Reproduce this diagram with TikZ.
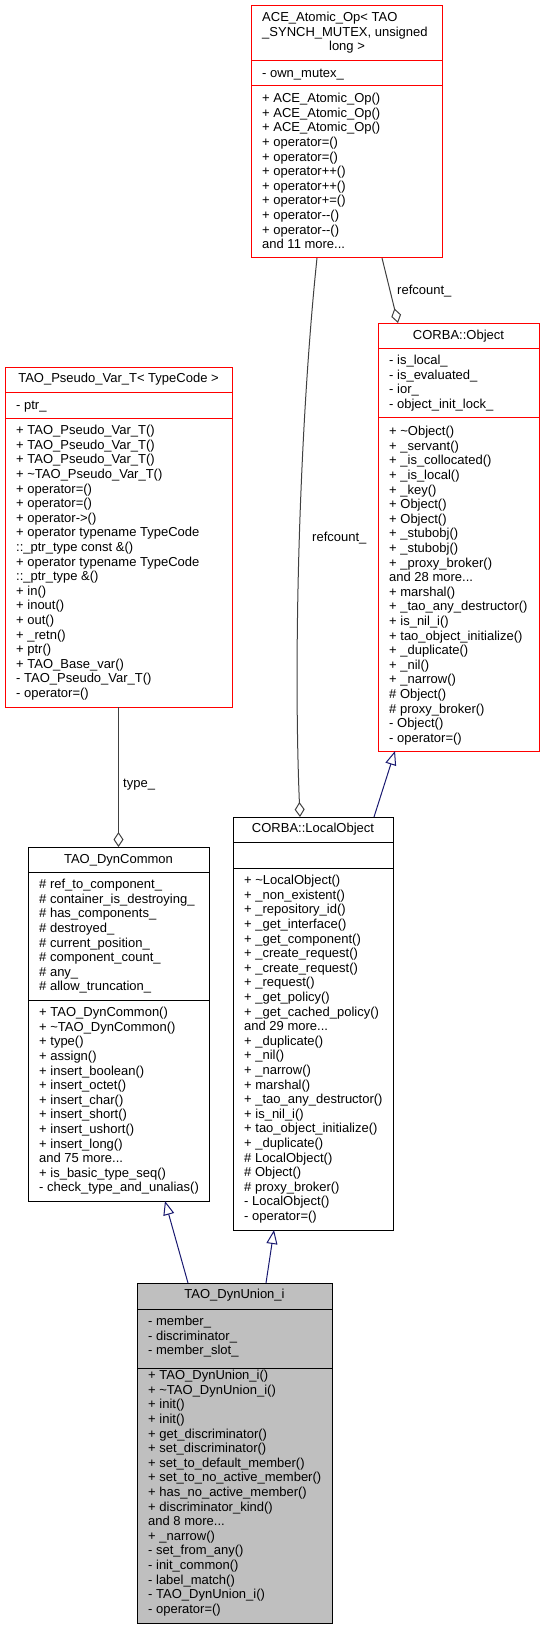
\documentclass[tikz,border=0pt]{standalone}
\usepackage{fontspec}
\setmainfont{Liberation Sans}
\usetikzlibrary{arrows.meta,calc}
\definecolor{dxred}{HTML}{FF0000}
\definecolor{dxblue}{HTML}{191970}
\definecolor{dxgray}{HTML}{404040}
\definecolor{dxfill}{HTML}{BFBFBF}
\newcommand\dxfs{\fontsize{13}{14.6}\selectfont}
\newcommand\dxst{\rule{0pt}{10pt}}
\tikzset{
 box/.style={draw, line width=1pt, anchor=north west, inner sep=0pt, outer sep=0pt},
 redbox/.style={box, draw=dxred},
 blkbox/.style={box, draw=black},
 txt/.style={anchor=north west, inner sep=0pt, align=left, font=\dxfs},
 ttl/.style={anchor=base, inner sep=0pt, font=\dxfs},
 lbl/.style={anchor=base west, inner sep=0pt, font=\dxfs},
 assoc/.style={draw=dxgray, line width=1pt, -{Diamond[open, length=15pt, width=10pt]}},
 inherit/.style={draw=dxblue, line width=1pt, -{Triangle[open, length=14pt, width=11pt]}},
}
\begin{document}
\begin{tikzpicture}[x=1pt,y=-1pt]
\useasboundingbox (0,0) rectangle (544,1629);

% ---------------- ACE_Atomic_Op
\node[redbox, minimum width=191pt, minimum height=252pt] (ace) at (251,6) {};
\draw[dxred, line width=1pt] ($(ace.north west)+(0,55)$) -- ($(ace.north east)+(0,55)$);
\draw[dxred, line width=1pt] ($(ace.north west)+(0,80)$) -- ($(ace.north east)+(0,80)$);
\node[lbl] (ace-t1) at (262,21.5) {ACE\_Atomic\_Op< TAO};
\node[lbl] (ace-t2) at (262,36.1) {\_SYNCH\_MUTEX, unsigned};
\node[ttl] (ace-t3) at (347,50.7) {long >};
\node[txt] (ace-a) at (262,67.5) {\dxst- own\_mutex\_};
\node[txt] (ace-m) at (262,92.5) {\dxst+ ACE\_Atomic\_Op()\\
+ ACE\_Atomic\_Op()\\
+ ACE\_Atomic\_Op()\\
+ operator=()\\
+ operator=()\\
+ operator++()\\
+ operator++()\\
+ operator+=()\\
+ operator-{}-()\\
+ operator-{}-()\\
and 11 more...};

% ---------------- CORBA::Object
\node[redbox, minimum width=161pt, minimum height=428pt] (obj) at (378,323) {};
\draw[dxred, line width=1pt] ($(obj.north west)+(0,25)$) -- ($(obj.north east)+(0,25)$);
\draw[dxred, line width=1pt] ($(obj.north west)+(0,94)$) -- ($(obj.north east)+(0,94)$);
\node[ttl] (obj-t) at (458.5,339.5) {CORBA::Object};
\node[txt] (obj-a) at (389,354.5) {\dxst- is\_local\_\\
- is\_evaluated\_\\
- ior\_\\
- object\_init\_lock\_};
\node[txt] (obj-m) at (389,425.5) {\dxst+ \textasciitilde Object()\\
+ \_servant()\\
+ \_is\_collocated()\\
+ \_is\_local()\\
+ \_key()\\
+ Object()\\
+ Object()\\
+ \_stubobj()\\
+ \_stubobj()\\
+ \_proxy\_broker()\\
and 28 more...\\
+ marshal()\\
+ \_tao\_any\_destructor()\\
+ is\_nil\_i()\\
+ tao\_object\_initialize()\\
+ \_duplicate()\\
+ \_nil()\\
+ \_narrow()\\
\# Object()\\
\# proxy\_broker()\\
- Object()\\
- operator=()};

% ---------------- TAO_Pseudo_Var_T
\node[redbox, minimum width=227pt, minimum height=340pt] (pv) at (5,367) {};
\draw[dxred, line width=1pt] ($(pv.north west)+(0,25)$) -- ($(pv.north east)+(0,25)$);
\draw[dxred, line width=1pt] ($(pv.north west)+(0,51)$) -- ($(pv.north east)+(0,51)$);
\node[ttl] (pv-t) at (118.5,382.5) {TAO\_Pseudo\_Var\_T< TypeCode >};
\node[txt] (pv-a) at (16,399.5) {\dxst- ptr\_};
\node[txt] (pv-m) at (16,424.5) {\dxst+ TAO\_Pseudo\_Var\_T()\\
+ TAO\_Pseudo\_Var\_T()\\
+ TAO\_Pseudo\_Var\_T()\\
+ \textasciitilde TAO\_Pseudo\_Var\_T()\\
+ operator=()\\
+ operator=()\\
+ operator->()\\
+ operator typename TypeCode\\
::\_ptr\_type const \&()\\
+ operator typename TypeCode\\
::\_ptr\_type \&()\\
+ in()\\
+ inout()\\
+ out()\\
+ \_retn()\\
+ ptr()\\
+ TAO\_Base\_var()\\
- TAO\_Pseudo\_Var\_T()\\
- operator=()};

% ---------------- TAO_DynCommon
\node[blkbox, minimum width=181pt, minimum height=354pt] (dc) at (28,847) {};
\draw[line width=1pt] ($(dc.north west)+(0,25)$) -- ($(dc.north east)+(0,25)$);
\draw[line width=1pt] ($(dc.north west)+(0,153)$) -- ($(dc.north east)+(0,153)$);
\node[ttl] (dc-t) at (118.5,863.5) {TAO\_DynCommon};
\node[txt] (dc-a) at (39,878.5) {\dxst\# ref\_to\_component\_\\
\# container\_is\_destroying\_\\
\# has\_components\_\\
\# destroyed\_\\
\# current\_position\_\\
\# component\_count\_\\
\# any\_\\
\# allow\_truncation\_};
\node[txt] (dc-m) at (39,1006.5) {\dxst+ TAO\_DynCommon()\\
+ \textasciitilde TAO\_DynCommon()\\
+ type()\\
+ assign()\\
+ insert\_boolean()\\
+ insert\_octet()\\
+ insert\_char()\\
+ insert\_short()\\
+ insert\_ushort()\\
+ insert\_long()\\
and 75 more...\\
+ is\_basic\_type\_seq()\\
- check\_type\_and\_unalias()};

% ---------------- CORBA::LocalObject
\node[blkbox, minimum width=160pt, minimum height=413pt] (lo) at (233,817) {};
\draw[line width=1pt] ($(lo.north west)+(0,25)$) -- ($(lo.north east)+(0,25)$);
\draw[line width=1pt] ($(lo.north west)+(0,51)$) -- ($(lo.north east)+(0,51)$);
\node[ttl] (lo-t) at (313,832.5) {CORBA::LocalObject};
\node[txt] (lo-m) at (244,874.5) {\dxst+ \textasciitilde LocalObject()\\
+ \_non\_existent()\\
+ \_repository\_id()\\
+ \_get\_interface()\\
+ \_get\_component()\\
+ \_create\_request()\\
+ \_create\_request()\\
+ \_request()\\
+ \_get\_policy()\\
+ \_get\_cached\_policy()\\
and 29 more...\\
+ \_duplicate()\\
+ \_nil()\\
+ \_narrow()\\
+ marshal()\\
+ \_tao\_any\_destructor()\\
+ is\_nil\_i()\\
+ tao\_object\_initialize()\\
+ \_duplicate()\\
\# LocalObject()\\
\# Object()\\
\# proxy\_broker()\\
- LocalObject()\\
- operator=()};

% ---------------- TAO_DynUnion_i
\node[blkbox, fill=dxfill, minimum width=195pt, minimum height=340pt] (du) at (137,1283) {};
\draw[line width=1pt] ($(du.north west)+(0,26)$) -- ($(du.north east)+(0,26)$);
\draw[line width=1pt] ($(du.north west)+(0,85)$) -- ($(du.north east)+(0,85)$);
\node[ttl] (du-t) at (234.5,1298.5) {TAO\_DynUnion\_i};
\node[txt] (du-a) at (148,1315.5) {\dxst- member\_\\
- discriminator\_\\
- member\_slot\_};
\node[txt] (du-m) at (148,1369.5) {\dxst+ TAO\_DynUnion\_i()\\
+ \textasciitilde TAO\_DynUnion\_i()\\
+ init()\\
+ init()\\
+ get\_discriminator()\\
+ set\_discriminator()\\
+ set\_to\_default\_member()\\
+ set\_to\_no\_active\_member()\\
+ has\_no\_active\_member()\\
+ discriminator\_kind()\\
and 8 more...\\
+ \_narrow()\\
- set\_from\_any()\\
- init\_common()\\
- label\_match()\\
- TAO\_DynUnion\_i()\\
- operator=()};

% ---------------- connectors
\draw[assoc] ($(ace.south west)+(131,0)$) -- ($(obj.north west)+(20,0)$);
\node[lbl] (l-rc1) at (397,294.5) {refcount\_};
\draw[assoc] ($(ace.south west)+(66,0)$) .. controls (300,420) and (293,650) .. ($(lo.north west)+(67,0)$);
\node[lbl] (l-rc2) at (312,541.5) {refcount\_};
\draw[assoc] (pv.south) -- (dc.north);
\node[lbl] (l-type) at (123,787.5) {type\_};
\draw[inherit] ($(lo.north west)+(141,0)$) -- ($(obj.south west)+(17,0)$);
\draw[inherit] ($(du.north west)+(51,0)$) -- ($(dc.south west)+(137,0)$);
\draw[inherit] ($(du.north west)+(129,0)$) -- ($(lo.south west)+(41,0)$);
\end{tikzpicture}
\end{document}
